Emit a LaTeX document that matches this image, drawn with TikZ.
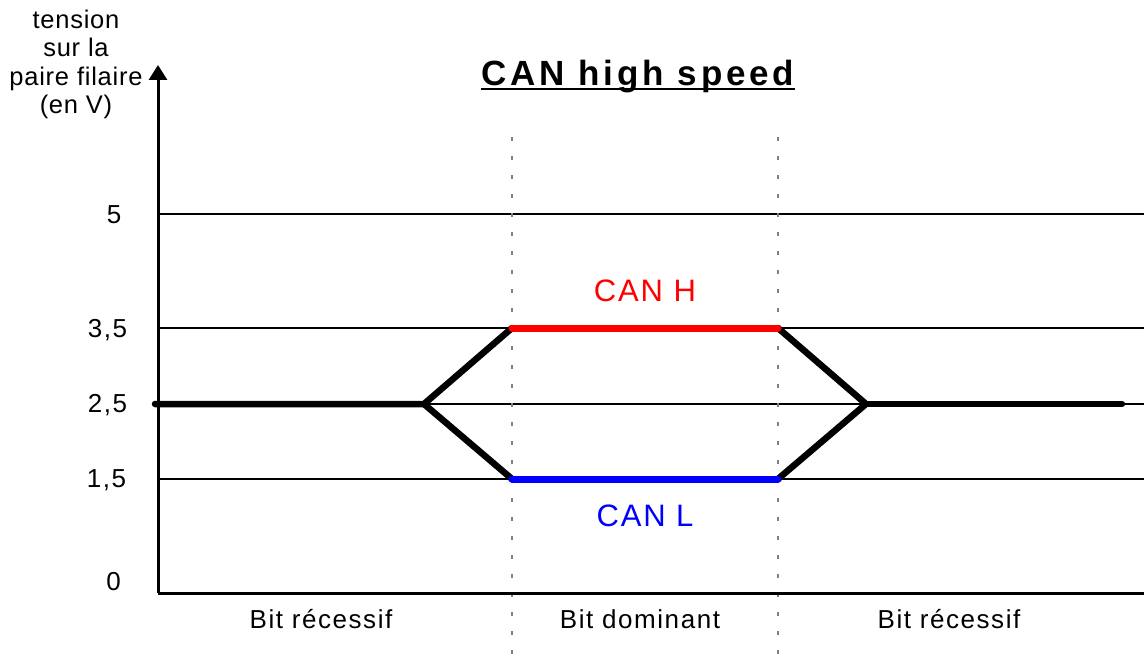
\documentclass[tikz,border=0pt]{standalone}
\usepackage{fontspec}
\setmainfont{Liberation Sans}[LetterSpace=6]
\newfontfamily\titrefont{Liberation Sans}[LetterSpace=11]
\newfontfamily\axefont{Liberation Sans}[LetterSpace=3]
\usetikzlibrary{arrows.meta}

\begin{document}
\begin{tikzpicture}[
        x=1pt, y=-1pt,
        grille/.style={line width=2.4pt},
        axe/.style={line width=3pt},
        sep/.style={line width=1.5pt, gray, dash pattern=on 4pt off 15pt},
        signal/.style={line width=6.5pt, line cap=round},
        canh/.style={line width=7pt, line cap=round, red},
        canl/.style={line width=7pt, line cap=round, blue},
        lab/.style={inner sep=0pt, anchor=base, font=\fontsize{26}{30}\selectfont},
        canlab/.style={inner sep=0pt, anchor=base, font=\fontsize{31}{36}\selectfont}
    ]
    \useasboundingbox (0,0) rectangle (1144,661);

    % Niveaux
    \foreach \y in {214, 328, 404, 479}
        \draw [grille] (158,\y) -- (1144,\y);

    % Separations des bits
    \coordinate (s1h) at (512,137);
    \coordinate (s1b) at (512,661);
    \coordinate (s2h) at (778,137);
    \coordinate (s2b) at (778,661);
    \draw [sep] (s1h) -- (s1b);
    \draw [sep] (s2h) -- (s2b);

    % Signal
    \coordinate (a) at (155,404);
    \coordinate (b) at (424,404);
    \coordinate (hg) at (512,328);
    \coordinate (bg) at (512,479);
    \coordinate (hd) at (778,328);
    \coordinate (bd) at (778,479);
    \coordinate (c) at (866,404);
    \coordinate (d) at (1122,404);
    \draw [signal] (a) -- (b) -- (hg);
    \draw [signal] (b) -- (bg);
    \draw [signal] (hd) -- (c) -- (bd);
    \draw [signal] (c) -- (d);
    \draw [canh] (hg) -- (hd);
    \draw [canl] (bg) -- (bd);

    % Axes
    \coordinate (O) at (158,593);
    \coordinate (ytop) at (158,65);
    \coordinate (xend) at (1144,593);
    \draw [axe, -{Triangle[length=15pt, width=18pt]}] (O) -- (ytop);
    \draw [axe] (O) -- (xend);

    % Textes
    \node (ylab) [anchor=north, inner sep=0pt, align=center,
        font=\axefont\fontsize{25.5}{28.5}\selectfont] at (76,9.5)
        {tension\\sur la\\paire filaire\\(en V)};
    \node (titre) [inner sep=0pt, anchor=base, font=\titrefont\bfseries\fontsize{35}{40}\selectfont]
        at (638,85) {CAN high speed};
    \draw [line width=2.4pt] ([yshift=-4pt]titre.base west) -- ([yshift=-4pt]titre.base east);

    \node (v5) [lab] at (114,223) {5};
    \node (v35) [lab] at (107.5,337) {3,5};
    \node (v25) [lab] at (107.5,412) {2,5};
    \node (v15) [lab] at (106.5,487) {1,5};
    \node (v0) [lab] at (113.5,590) {0};

    \node (lh) [canlab, red] at (645,301) {CAN H};
    \node (ll) [canlab, blue] at (645,526) {CAN L};

    \node (bit1) [lab] at (321,628) {Bit récessif};
    \node (bit2) [lab] at (640,628) {Bit dominant};
    \node (bit3) [lab] at (949,628) {Bit récessif};

\end{tikzpicture}
\end{document}
